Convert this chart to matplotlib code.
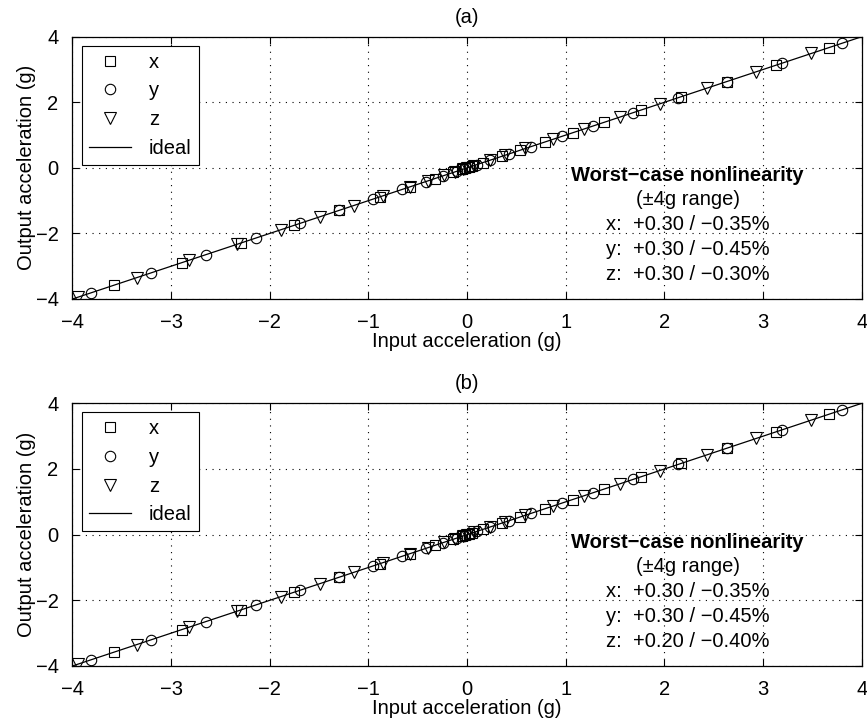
import matplotlib.pyplot as plt

plt.rcParams['font.family'] = ['Liberation Sans', 'DejaVu Sans']

# input acceleration (g), per axis
x_in = [-3.58, -2.89, -2.29, -1.75, -1.30, -0.88, -0.58, -0.33, -0.14, -0.05, -0.02,
        0.02, 0.05, 0.16, 0.35, 0.54, 0.79, 1.07, 1.39, 1.76, 2.17, 2.63, 3.13, 3.67]
x_out = [-3.58, -2.89, -2.29, -1.75, -1.30, -0.88, -0.58, -0.33, -0.14, -0.05, -0.02,
         0.02, 0.05, 0.16, 0.35, 0.54, 0.79, 1.07, 1.39, 1.76, 2.17, 2.63, 3.13, 3.67]
y_in = [-3.81, -3.20, -2.65, -2.14, -1.69, -1.30, -0.95, -0.66, -0.42, -0.24, -0.10, -0.03,
        0.03, 0.10, 0.23, 0.42, 0.65, 0.96, 1.28, 1.68, 2.14, 2.63, 3.19, 3.80]
y_out = [-3.81, -3.20, -2.65, -2.14, -1.69, -1.30, -0.95, -0.66, -0.42, -0.24, -0.10, -0.03,
         0.03, 0.10, 0.23, 0.42, 0.65, 0.96, 1.28, 1.68, 2.14, 2.63, 3.19, 3.80]
z_in = [-3.94, -3.35, -2.82, -2.33, -1.89, -1.49, -1.15, -0.85, -0.58, -0.40, -0.23, -0.12,
        -0.04, 0.0, 0.07, 0.23, 0.38, 0.59, 0.87, 1.18, 1.55, 1.95, 2.43, 2.93, 3.49]
z_out = [-3.94, -3.35, -2.82, -2.33, -1.89, -1.49, -1.15, -0.85, -0.58, -0.40, -0.23, -0.12,
         -0.04, 0.0, 0.07, 0.23, 0.38, 0.59, 0.87, 1.18, 1.55, 1.95, 2.43, 2.93, 3.49]
ideal = [-4, 4]

panel_titles = ['(a)', '(b)']
nonlin = [['x:  +0.30 / \u22120.35%', 'y:  +0.30 / \u22120.45%', 'z:  +0.30 / \u22120.30%'],
          ['x:  +0.30 / \u22120.35%', 'y:  +0.30 / \u22120.45%', 'z:  +0.20 / \u22120.40%']]

fig = plt.figure(figsize=(8.67, 7.28), dpi=100)
boxes = [[0.0836, 0.5893, 0.9104, 0.3603], [0.0836, 0.0852, 0.9104, 0.3608]]

fs = 14.5
mk = dict(linestyle='none', mfc='none', mec='black', mew=0.8)
for i in range(2):
    ax = fig.add_axes(boxes[i])
    ax.plot(x_in, x_out, marker='s', markersize=6.7, label='x', **mk)
    ax.plot(y_in, y_out, marker='o', markersize=7.5, label='y', **mk)
    ax.plot(z_in, z_out, marker='v', markersize=8, label='z', **mk)
    ax.plot(ideal, ideal, color='black', lw=0.9, label='ideal')
    ax.set_xlim(-4, 4)
    ax.set_ylim(-4, 4)
    ax.set_xticks(range(-4, 5))
    ax.set_yticks([-4, -2, 0, 2, 4])
    ax.grid(True, linestyle=(0, (1, 5)), color='black', lw=0.8)
    ax.tick_params(direction='in', top=True, right=True, labelsize=fs, length=5, width=0.8, pad=10)
    for s in ax.spines.values():
        s.set_linewidth(0.9)
    ax.set_xlabel('Input acceleration (g)', fontsize=fs, labelpad=0)
    ax.set_ylabel('Output acceleration (g)', fontsize=fs, labelpad=0)
    ax.set_title(panel_titles[i], fontsize=fs, pad=10)
    leg = ax.legend(loc='upper left', fontsize=fs, fancybox=False, edgecolor='black',
                    framealpha=1, handlelength=2.1, borderaxespad=0.45, labelspacing=0.48,
                    handletextpad=0.9, borderpad=0.35)
    leg.get_frame().set_linewidth(0.8)
    ax.text(2.235, -0.24, 'Worst\u2212case nonlinearity', fontsize=fs, fontweight='bold',
            ha='center', va='center')
    ax.text(2.235, -0.98, '(\u00b14g range)', fontsize=fs, ha='center', va='center')
    for j, t in enumerate(nonlin[i]):
        ax.text(2.235, -1.74 - 0.76 * j, t, fontsize=fs, ha='center', va='center')

fig.savefig('out.png', dpi=100)
